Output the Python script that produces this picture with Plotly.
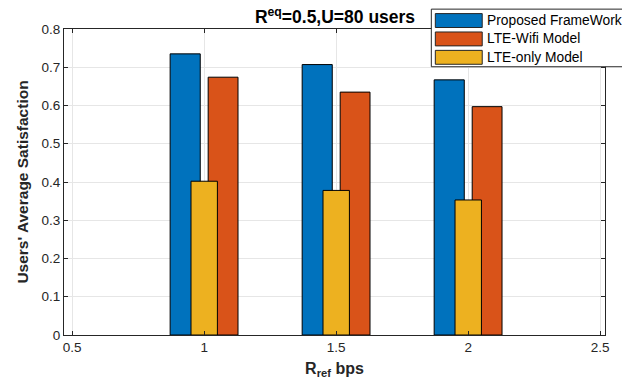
import plotly.graph_objects as go

# ---- data ----
x_vals = [1.0, 1.5, 2.0]
series_names = ["Proposed FrameWork", "LTE-Wifi Model", "LTE-only Model"]
proposed = [0.735, 0.707, 0.667]
lte_wifi = [0.674, 0.635, 0.597]
lte_only = [0.402, 0.378, 0.353]
x_ticks = [0.5, 1, 1.5, 2, 2.5]
x_tick_labels = ["0.5", "1", "1.5", "2", "2.5"]
y_ticks = [0, 0.1, 0.2, 0.3, 0.4, 0.5, 0.6, 0.7, 0.8]
y_tick_labels = ["0", "0.1", "0.2", "0.3", "0.4", "0.5", "0.6", "0.7", "0.8"]

colors = ["#0072BD", "#D95319", "#EDB120"]
FONT = "Liberation Sans, Arial, Helvetica, sans-serif"

W, H = 622, 386
L, R, T, B = 64, 16, 29, 49  # plot area margins (px)

fig = go.Figure()
bar_specs = [
    (proposed, colors[0], series_names[0], -0.129, 0.114),
    (lte_wifi, colors[1], series_names[1], 0.015, 0.113),
    (lte_only, colors[2], series_names[2], -0.05, 0.100),
]
for vals, col, name, off, wid in bar_specs:
    fig.add_trace(go.Bar(
        x=x_vals, y=vals, name=name,
        offset=off, width=wid,
        marker=dict(color=col, line=dict(color="#000000", width=1)),
        showlegend=False,
    ))

# ---- custom MATLAB-like legend ----
pw = W - L - R
ph = H - T - B
def px2x(px):
    return (px - L) / pw
def py2y(py):
    return (H - B - py) / ph

shapes = [dict(type="rect", xref="paper", yref="paper",
               x0=px2x(432), x1=px2x(640), y0=py2y(67), y1=py2y(9),
               line=dict(color="#262626", width=1), fillcolor="white", layer="above")]
annotations = []
row_centers = [20.5, 39, 57.5]
for name, col, yc in zip(series_names, colors, row_centers):
    shapes.append(dict(type="rect", xref="paper", yref="paper",
                       x0=px2x(436), x1=px2x(483), y0=py2y(yc + 7), y1=py2y(yc - 7),
                       line=dict(color="#262626", width=1), fillcolor=col, layer="above"))
    annotations.append(dict(text=name, xref="paper", yref="paper",
                            x=px2x(486), y=py2y(yc), xanchor="left", yanchor="middle",
                            showarrow=False, font=dict(family=FONT, size=13.8, color="#000000")))

fig.update_layout(
    width=W, height=H,
    margin=dict(l=L, r=R, t=T, b=B, pad=0),
    paper_bgcolor="white", plot_bgcolor="white",
    barmode="overlay",
    font=dict(family=FONT, size=13, color="#262626"),
    title=dict(text="<b>R<sup>eq</sup>=0.5,U=80 users</b>",
               x=(L + pw / 2) / W, xanchor="center", xref="container",
               y=1 - 17 / H, yanchor="middle", yref="container",
               font=dict(family=FONT, size=17.5, color="#000000")),
    xaxis=dict(range=[0.469, 2.518], tickvals=x_ticks, ticktext=x_tick_labels,
               showgrid=True, gridcolor="#e6e6e6", gridwidth=1,
               showline=True, linecolor="#262626", linewidth=1, mirror="ticks",
               ticks="inside", ticklen=4, tickcolor="#262626", zeroline=False,
               tickfont=dict(size=13.5, color="#262626"),
               title=dict(text="<b>R<sub>ref</sub> bps</b>", standoff=8,
                          font=dict(size=16, color="#262626"))),
    yaxis=dict(range=[0, 0.8], tickvals=y_ticks, ticktext=y_tick_labels,
               showgrid=True, gridcolor="#e6e6e6", gridwidth=1,
               showline=True, linecolor="#262626", linewidth=1, mirror="ticks",
               ticks="inside", ticklen=4, tickcolor="#262626", zeroline=False,
               tickfont=dict(size=13.5, color="#262626"),
               title=dict(text="<b>Users' Average Satisfaction</b>", standoff=9,
                          font=dict(size=15.5, color="#262626"))),
    shapes=shapes,
    annotations=annotations,
)

fig.write_html("out.html")
